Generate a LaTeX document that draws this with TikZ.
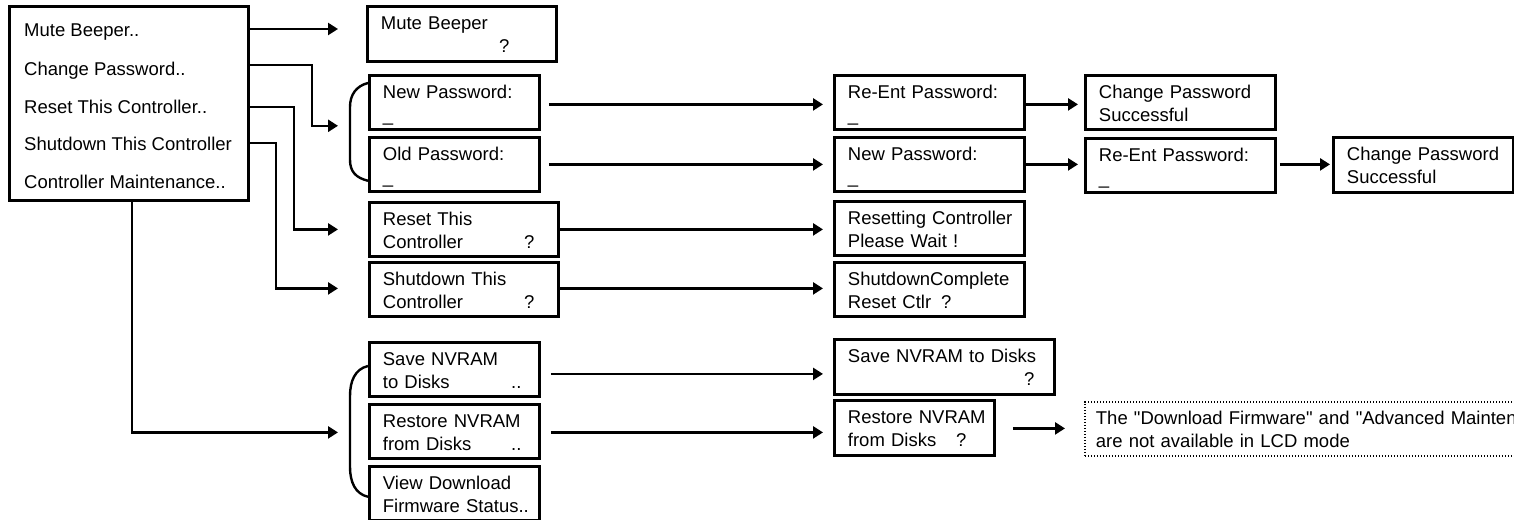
\documentclass[tikz,border=0pt]{standalone}
\usepackage{fontspec}
\setmainfont{Liberation Sans}
\newfontfamily\plainsans{Liberation Sans}
\usetikzlibrary{arrows.meta,calc}
\newcommand\twol[2]{\rule{0pt}{23pt}\mbox{#1}\\#2\rule[-8pt]{0pt}{8pt}}
\begin{document}
\begin{tikzpicture}[x=1pt,y=-1pt,
  lcd/.style={draw, line width=2.8pt, rectangle, anchor=north west,
    inner xsep=13.5pt, inner ysep=0pt, align=left,
    font=\fontsize{18.5}{23}\selectfont},
  menutext/.style={anchor=base west, inner sep=0pt, font=\fontsize{18.5}{23}\selectfont},
  note/.style={draw, line width=1.8pt, dash pattern=on 1.4pt off 1.6pt, rectangle,
    anchor=north west, inner xsep=11pt, inner ysep=0pt, align=left,
    font=\plainsans\fontsize{18.5}{23}\selectfont},
  arr/.style={line width=2.4pt, -{Triangle[length=10pt,width=12pt]}},
  ln/.style={line width=2.4pt}]
\useasboundingbox (0,0) rectangle (1514,519);
\clip (0,0) rectangle (1514,519);

% main menu
\node[draw, line width=2.8pt, rectangle, anchor=north west, minimum width=239pt, minimum height=194pt, inner sep=0pt] (menu) at (8,5) {};
\node[menutext] (m1) at (24,37) {Mute Beeper..};
\node[menutext] (m2) at (24,75) {Change Password..};
\node[menutext] (m3) at (24,113) {Reset This Controller..};
\node[menutext] (m4) at (24,150) {Shutdown This Controller};
\node[menutext] (m5) at (24,188) {Controller Maintenance..};

% column 2
\node[lcd, minimum width=189pt, text width=162pt, minimum height=55pt] (mb) at (366,5) {\twol{Mute Beeper}{\hfill?\hspace*{33.5pt}}};
\node[lcd, minimum width=170pt, text width=143pt, minimum height=54pt] (np) at (368,74) {\twol{New Password:}{\_}};
\node[lcd, minimum width=170pt, text width=143pt, minimum height=54pt] (op) at (368,136) {\twol{Old Password:}{\_}};
\node[lcd, minimum width=189pt, text width=162pt, minimum height=54pt] (rc) at (368,201) {\twol{Reset This}{Controller\hfill?\hspace*{10.5pt}}};
\node[lcd, minimum width=189pt, text width=162pt, minimum height=54pt] (sc) at (368,261) {\twol{Shutdown This}{Controller\hfill?\hspace*{10.5pt}}};
\node[lcd, minimum width=170pt, text width=143pt, minimum height=53pt] (sv) at (368,341) {\twol{Save NVRAM}{to Disks\hfill..\hspace*{4.5pt}}};
\node[lcd, minimum width=170pt, text width=143pt, minimum height=54pt] (rs) at (368,403) {\twol{Restore NVRAM}{from Disks\hfill..\hspace*{4.5pt}}};
\node[lcd, minimum width=170pt, text width=143pt, minimum height=53pt] (vd) at (368,465) {\twol{View Download}{\mbox{Firmware Status..}}};

% column 3
\node[lcd, minimum width=190pt, text width=163pt, minimum height=54pt] (re1) at (833,74) {\twol{Re-Ent Password:}{\_}};
\node[lcd, minimum width=190pt, text width=163pt, minimum height=54pt] (np2) at (833,136) {\twol{New Password:}{\_}};
\node[lcd, minimum width=190pt, text width=163pt, minimum height=54pt] (rw) at (833,200) {\twol{Resetting Controller}{Please Wait !}};
\node[lcd, minimum width=190pt, text width=163pt, minimum height=54pt] (scomp) at (833,261) {\twol{ShutdownComplete}{Reset Ctlr\hspace*{10pt}?}};
\node[lcd, minimum width=220pt, text width=193pt, minimum height=55pt] (sv2) at (833,338) {\twol{Save NVRAM to Disks}{\hfill?\hspace*{6.5pt}}};
\node[lcd, minimum width=160pt, text width=133pt, minimum height=55pt] (rs2) at (833,399) {\twol{Restore NVRAM}{from Disks\hfill?\hspace*{14.5pt}}};

% column 4
\node[lcd, minimum width=190pt, text width=163pt, minimum height=54pt] (cps1) at (1084,74) {\twol{Change Password}{Successful}};
\node[lcd, minimum width=190pt, text width=163pt, minimum height=54pt] (re2) at (1084,137) {\twol{Re-Ent Password:}{\_}};
\node[note, minimum width=500pt, text width=478pt, minimum height=53pt] (nt) at (1084,401) {\twol{The "Download Firmware" and "Advanced Mainten}{are not available in LCD mode}};

% column 5
\node[lcd, minimum width=180pt, text width=153pt, minimum height=55pt] (cps2) at (1332,136) {\twol{Change Password}{Successful}};

% menu connectors
\draw[arr] ($(menu.north east)+(0,24)$) -- ($(mb.north west)+(-28,24)$);
\draw[arr] ($(menu.north east)+(0,60)$) -| ($(np.south west)+(-56,-5)$) -- ($(np.south west)+(-30,-5)$);
\draw[arr] ($(menu.north east)+(0,102)$) -| ($(rc.west)+(-74,0)$) -- ($(rc.west)+(-30,0)$);
\draw[arr] ($(menu.north east)+(0,138)$) -| ($(sc.west)+(-92,-1)$) -- ($(sc.west)+(-30,-1)$);
\draw[arr] ($(menu.south west)+(124,0)$) |- ($(rs.west)+(-30,1)$);

% brackets
\coordinate (T1) at ($(np.north west)+(0,9)$);
\coordinate (P1) at ($(T1)+(-18,24)$);
\coordinate (B1) at ($(op.south west)+(0,-12)$);
\coordinate (Q1) at ($(B1)+(-18,-21)$);
\draw[ln] (T1) .. controls ($(T1)+(-12,3)$) and ($(P1)+(0,-12)$) .. (P1) -- (Q1)
  .. controls ($(Q1)+(0,12)$) and ($(B1)+(-12,-3)$) .. (B1);
\coordinate (T2) at ($(sv.north west)+(0,25)$);
\coordinate (P2) at ($(T2)+(-18,30)$);
\coordinate (B2) at ($(vd.south west)+(0,-25)$);
\coordinate (Q2) at ($(B2)+(-18,-30)$);
\draw[ln] (T2) .. controls ($(T2)+(-13,3)$) and ($(P2)+(0,-15)$) .. (P2) -- (Q2)
  .. controls ($(Q2)+(0,15)$) and ($(B2)+(-13,-3)$) .. (B2);

% column 2 -> column 3
\draw[arr, shorten <=8pt, shorten >=10pt] (np.east) ++(0,2) coordinate (c1) -- (c1 -| re1.west);
\draw[arr, shorten <=8pt, shorten >=10pt] (op.east) coordinate (c2) -- (c2 -| np2.west);
\draw[arr, shorten >=10pt] (rc.east) coordinate (c3) -- (c3 -| rw.west);
\draw[arr, shorten >=10pt] (sc.east) ++(0,-1) coordinate (c4) -- (c4 -| scomp.west);
\draw[arr, shorten <=10pt, shorten >=10pt] (sv.east) ++(0,4.5) coordinate (c5) -- (c5 -| sv2.west);
\draw[arr, shorten <=10pt, shorten >=10pt] (rs.east) ++(0,1) coordinate (c6) -- (c6 -| rs2.west);

% column 3 -> column 4/5
\draw[arr, shorten >=6pt] (re1.east) ++(0,2) coordinate (c7) -- (c7 -| cps1.west);
\draw[arr, shorten >=6pt] (np2.east) coordinate (c8) -- (c8 -| re2.west);
\draw[arr, shorten <=3pt, shorten >=2pt] (re2.east) ++(0,-1) coordinate (c9) -- (c9 -| cps2.west);
\draw[arr, shorten <=17pt, shorten >=19pt] (rs2.east) ++(0,0.5) coordinate (c10) -- (c10 -| nt.west);
\end{tikzpicture}
\end{document}
